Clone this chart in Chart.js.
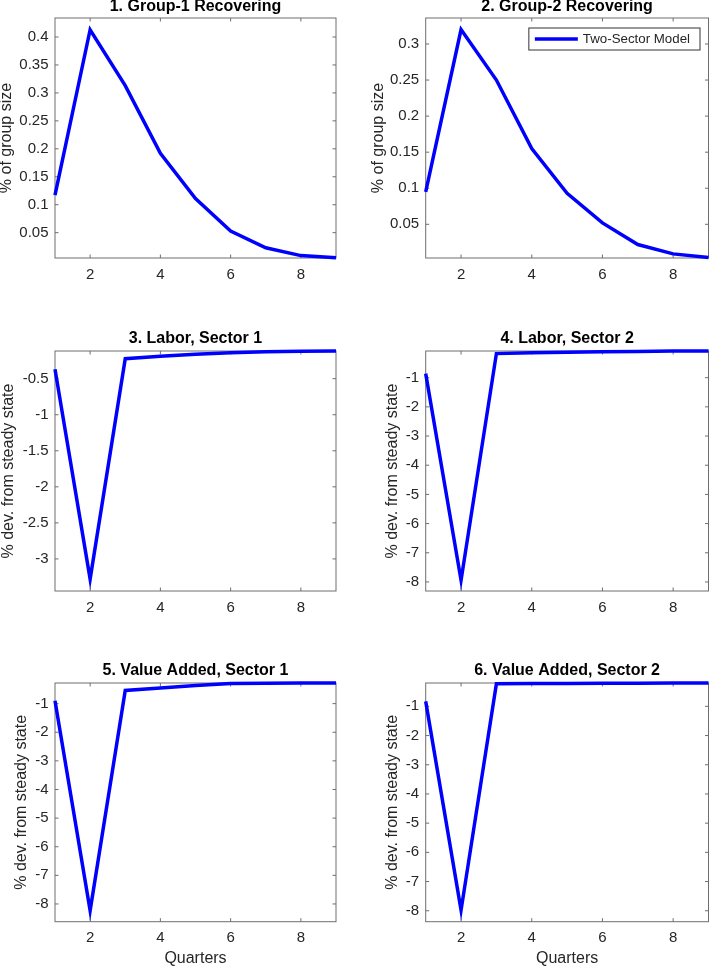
<!DOCTYPE html>
<html>
<head>
<meta charset="utf-8">
<script src="https://cdn.jsdelivr.net/npm/chart.js@4"></script>
<style>
  html, body { margin: 0; padding: 0; background: #fff; }
  #page { position: relative; width: 709px; height: 966px; overflow: hidden; background: #fff; }
  #page canvas { position: absolute; }
</style>
</head>
<body>
<div id="page"></div>
<script>
// ---------------- DATA ----------------

const quarters = [1, 2, 3, 4, 5, 6, 7, 8, 9];
const xTicks = [2, 4, 6, 8];

const group1Recovering = [0.117, 0.413, 0.313, 0.192, 0.111, 0.053, 0.023, 0.009, 0.005];
const group2Recovering = [0.095, 0.320, 0.250, 0.155, 0.093, 0.052, 0.022, 0.009, 0.004];
const laborSector1 = [-0.37, -3.28, -0.222, -0.19, -0.16, -0.14, -0.128, -0.12, -0.116];
const laborSector2 = [-0.86, -7.94, -0.175, -0.15, -0.13, -0.115, -0.10, -0.09, -0.086];
const valueAddedSector1 = [-0.90, -8.23, -0.54, -0.45, -0.37, -0.30, -0.29, -0.283, -0.279];
const valueAddedSector2 = [-0.83, -7.98, -0.225, -0.22, -0.215, -0.21, -0.205, -0.2, -0.2];

const groupTicks1 = [0.05, 0.1, 0.15, 0.2, 0.25, 0.3, 0.35, 0.4];
const groupTicks2 = [0.05, 0.1, 0.15, 0.2, 0.25, 0.3];
const laborTicks1 = [-3, -2.5, -2, -1.5, -1, -0.5];
const sectorTicks = [-8, -7, -6, -5, -4, -3, -2, -1];

const seriesName = "Two-Sector Model";

// ---------------- LAYOUT ----------------

const FONT = '"Liberation Sans", Arial, Helvetica, sans-serif';
const LINE_BLUE = "rgb(0,0,255)";

const rowTop = [18.3, 350.7, 683.3];
const rowBottom = [258.3, 590.7, 922.7];
const colLeft = [55, 425.7];
const colRight = [336, 708.5];
const canvasX = [-3, 355];
const canvasW = [343, 354];

const panels = [
    { title: "1. Group-1 Recovering", values: group1Recovering, yTicks: groupTicks1,
      range: [0.0047, 0.434], yLabel: "% of group size", row: 0, col: 0, labelPad: 1.7 },
    { title: "2. Group-2 Recovering", values: group2Recovering, yTicks: groupTicks2,
      range: [0.0033, 0.336], yLabel: "% of group size", row: 0, col: 1, labelPad: 15.5, legend: true },
    { title: "3. Labor, Sector 1", values: laborSector1, yTicks: laborTicks1,
      range: [-3.445, -0.116], yLabel: "% dev. from steady state", row: 1, col: 0, labelPad: 4 },
    { title: "4. Labor, Sector 2", values: laborSector2, yTicks: sectorTicks,
      range: [-8.31, -0.086], yLabel: "% dev. from steady state", row: 1, col: 1, labelPad: 29.5 },
    { title: "5. Value Added, Sector 1", values: valueAddedSector1, yTicks: sectorTicks,
      range: [-8.62, -0.279], yLabel: "% dev. from steady state", row: 2, col: 0, labelPad: 17 },
    { title: "6. Value Added, Sector 2", values: valueAddedSector2, yTicks: sectorTicks,
      range: [-8.375, -0.2], yLabel: "% dev. from steady state", row: 2, col: 1, labelPad: 29.5 }
];

// box with inward tick marks, like the matlab axes
const framePlugin = {
    id: "frame",
    beforeDatasetsDraw(chart) {
        const { ctx, chartArea: a, scales } = chart;
        const tl = 3.5;
        ctx.save();
        ctx.strokeStyle = "#6e6e6e";
        ctx.lineWidth = 1;
        ctx.strokeRect(a.left, a.top, a.right - a.left, a.bottom - a.top);
        ctx.beginPath();
        scales.x.ticks.forEach(t => {
            const px = scales.x.getPixelForValue(t.value);
            ctx.moveTo(px, a.bottom); ctx.lineTo(px, a.bottom - tl);
            ctx.moveTo(px, a.top); ctx.lineTo(px, a.top + tl);
        });
        scales.y.ticks.forEach(t => {
            const py = scales.y.getPixelForValue(t.value);
            ctx.moveTo(a.left, py); ctx.lineTo(a.left + tl, py);
            ctx.moveTo(a.right, py); ctx.lineTo(a.right - tl, py);
        });
        ctx.stroke();
        ctx.restore();
    }
};

// boxed legend in the top right corner of the plot
const legendBox = {
    id: "legendBox",
    afterDraw(chart, args, opts) {
        if (!opts.show) return;
        const { ctx, chartArea: a } = chart;
        const ds = chart.data.datasets[0];
        ctx.save();
        ctx.font = "13.3px " + FONT;
        const tw = ctx.measureText(ds.label).width;
        const w = 54 + tw + 10, h = 22;
        const x = a.right - 8.5 - w, y = a.top + 10;
        ctx.fillStyle = "#fff";
        ctx.fillRect(x, y, w, h);
        ctx.strokeStyle = "#333";
        ctx.lineWidth = 1;
        ctx.strokeRect(x, y, w, h);
        ctx.strokeStyle = ds.borderColor;
        ctx.lineWidth = ds.borderWidth;
        ctx.beginPath();
        ctx.moveTo(x + 6, y + h / 2);
        ctx.lineTo(x + 49, y + h / 2);
        ctx.stroke();
        ctx.fillStyle = "#262626";
        ctx.textBaseline = "middle";
        ctx.fillText(ds.label, x + 54, y + h / 2 + 0.5);
        ctx.restore();
    }
};

const page = document.getElementById("page");

panels.forEach(p => {
    const top = rowTop[p.row], bottom = rowBottom[p.row];
    const left = colLeft[p.col], right = colRight[p.col];
    const lastRow = p.row === 2;
    const titleGap = p.row === 0 ? 3 : 4;

    const cx = canvasX[p.col];
    const cw = canvasW[p.col];
    const cy = top - 16 - titleGap;
    const cb = lastRow ? 972 : bottom + 30;

    const canvas = document.createElement("canvas");
    canvas.width = cw;
    canvas.height = cb - cy;
    canvas.style.left = cx + "px";
    canvas.style.top = cy + "px";
    page.appendChild(canvas);

    new Chart(canvas, {
        type: "line",
        data: {
            labels: quarters,
            datasets: [{
                label: seriesName,
                data: p.values,
                borderColor: LINE_BLUE,
                backgroundColor: LINE_BLUE,
                borderWidth: 3.5,
                pointRadius: 0,
                tension: 0,
                fill: false,
                clip: 6
            }]
        },
        options: {
            responsive: false,
            animation: false,
            events: [],
            layout: { padding: { left: 0, top: 0, right: cx + cw - right, bottom: 0 } },
            plugins: {
                legend: { display: false },
                tooltip: { enabled: false },
                title: {
                    display: true,
                    text: p.title,
                    fullSize: false,
                    color: "#000",
                    font: { family: FONT, size: 16, weight: "bold", lineHeight: 1 },
                    padding: { top: 0, bottom: titleGap }
                },
                legendBox: { show: !!p.legend }
            },
            scales: {
                x: {
                    type: "linear",
                    min: 1,
                    max: 9,
                    grid: { display: false, drawTicks: false },
                    border: { display: false },
                    afterBuildTicks: s => { s.ticks = xTicks.map(v => ({ value: v })); },
                    afterFit: s => { s.height = cb - bottom; },
                    ticks: {
                        color: "#262626",
                        font: { family: FONT, size: 15, lineHeight: 1 },
                        padding: 9,
                        maxRotation: 0,
                        callback: v => String(v)
                    },
                    title: {
                        display: lastRow,
                        text: "Quarters",
                        color: "#262626",
                        font: { family: FONT, size: 16, lineHeight: 1 },
                        padding: { top: 0, bottom: 4 }
                    }
                },
                y: {
                    type: "linear",
                    min: p.range[0],
                    max: p.range[1],
                    grid: { display: false, drawTicks: false },
                    border: { display: false },
                    afterBuildTicks: s => { s.ticks = p.yTicks.map(v => ({ value: v })); },
                    afterFit: s => { s.width = left - cx; },
                    ticks: {
                        color: "#262626",
                        font: { family: FONT, size: 15, lineHeight: 1 },
                        padding: 6.5,
                        callback: v => String(v)
                    },
                    title: {
                        display: true,
                        text: p.yLabel,
                        color: "#262626",
                        font: { family: FONT, size: 16, lineHeight: 1 },
                        padding: { top: p.labelPad, bottom: 0 }
                    }
                }
            }
        },
        plugins: [framePlugin, legendBox]
    });
});
</script>
</body>
</html>
